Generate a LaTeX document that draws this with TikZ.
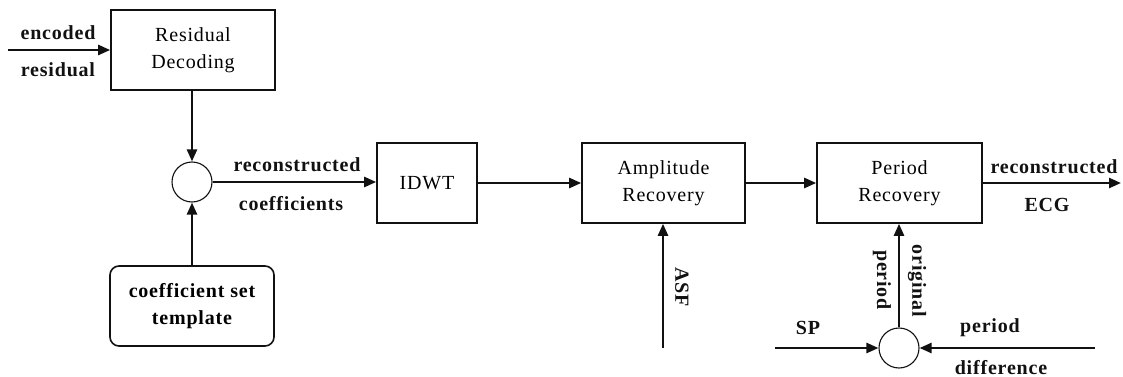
\documentclass[tikz,border=0pt]{standalone}
\usepackage{fontspec}
\setmainfont[LetterSpace=4]{Liberation Serif}
\usetikzlibrary{arrows.meta,positioning}
\definecolor{dgInk}{HTML}{111111}

\tikzset{
  blockbox/.style={draw=dgInk,line width=1.6pt,minimum width=164pt,minimum height=80pt,
                   align=center,font=\fontsize{20}{27}\selectfont,inner sep=0pt},
  tmplbox/.style={blockbox,rounded corners=9pt,font=\fontsize{20}{27}\selectfont\bfseries},
  sumnode/.style={draw=dgInk,circle,line width=1.1pt,minimum size=40pt,inner sep=0pt},
  flow/.style={draw=dgInk,line width=2.4pt,-{Triangle[length=12pt,width=10pt]}},
  sig/.style={font=\fontsize{20}{24}\selectfont\bfseries,inner sep=0pt,text=dgInk},
}

\begin{document}
\begin{tikzpicture}[x=1pt,y=-1pt]
  \useasboundingbox (0,0) rectangle (1123,377);

  % processing blocks
  \node[blockbox] (dec)  at (193,50)    {Residual\\Decoding};
  \node[tmplbox]  (tmpl) at (192,306)   {coefficient set\\template};
  \node[blockbox,minimum width=100pt] (idwt) at (427,183) {IDWT};
  \node[blockbox,minimum width=163pt] (amp)  at (663.5,183) {Amplitude\\Recovery};
  \node[blockbox,minimum width=165pt] (per)  at (899.5,183) {Period\\Recovery};

  % summing junctions
  \node[sumnode] (sumc) at (192,182) {};
  \node[sumnode] (sump) at (899,348) {};

  % free ends
  \coordinate (encin)  at (8,50);
  \coordinate (asfin)  at (663,348);
  \coordinate (spin)   at (775,348);
  \coordinate (pdin)   at (1095,348);
  \coordinate (ecgout) at (1121,183);

  % signal flow
  \draw[flow] (encin) -- (dec.west);
  \draw[flow] (dec.south -| sumc) -- (sumc.north);
  \draw[flow] (tmpl.north) -- (sumc.south);
  \draw[flow] (sumc.east) -- (idwt.west |- sumc);
  \draw[flow] (idwt.east) -- (amp.west);
  \draw[flow] (amp.east) -- (per.west);
  \draw[flow] (asfin) -- (amp.south -| asfin);
  \draw[flow] (per.east) -- (ecgout);
  \draw[flow] (sump.north) -- (per.south -| sump);
  \draw[flow] (spin) -- (sump.west);
  \draw[flow] (pdin) -- (sump.east);

  % signal names
  \node[sig] (lenc)  at (58,33)   {encoded};
  \node[sig] (lres)  at (58,70)   {residual};
  \node[sig] (lrec)  at (297,165) {reconstructed};
  \node[sig] (lcoef) at (291,204) {coefficients};
  \node[sig,rotate=-90] (lasf) at (682,287) {ASF};
  \node[sig] (lrecg) at (1054,167) {reconstructed};
  \node[sig] (lecg)  at (1047,205) {ECG};
  \node[sig,rotate=-90] (lper)  at (882,280) {period};
  \node[sig,rotate=-90] (lorig) at (917,281) {original};
  \node[sig] (lsp)   at (808,328) {SP};
  \node[sig] (lpd)   at (990,328) {period};
  \node[sig] (ldiff) at (1001,368) {difference};
\end{tikzpicture}
\end{document}
